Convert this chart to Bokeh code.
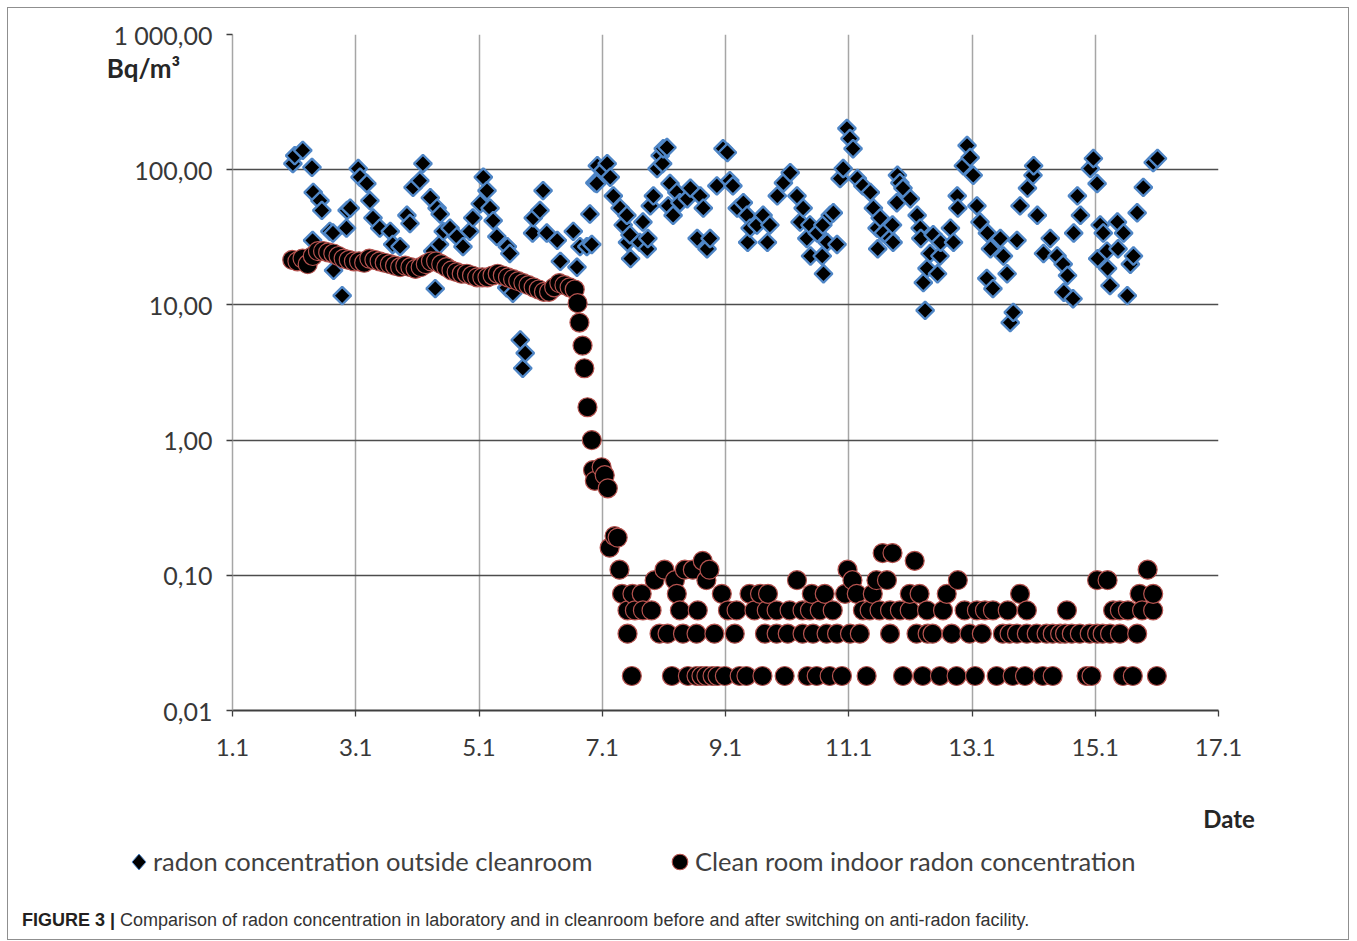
import numpy as np
from bokeh.plotting import figure
from bokeh.layouts import column
from bokeh.models import (ColumnDataSource, Range1d, FixedTicker, Label, Div)
from bokeh.embed import file_html
from bokeh.resources import INLINE

# ---------------- data ----------------
x_tick_days = [1, 3, 5, 7, 9, 11, 13, 15, 17]
x_tick_labels = ["1.1", "3.1", "5.1", "7.1", "9.1", "11.1", "13.1", "15.1", "17.1"]
y_tick_values = [0.01, 0.1, 1, 10, 100, 1000]
y_tick_labels = ["0,01", "0,10", "1,00", "10,00", "100,00", "1 000,00"]
series_names = ["radon concentration outside cleanroom", "Clean room indoor radon concentration"]
caption_bold = "FIGURE 3 |"
caption_text = ("Comparison of radon concentration in laboratory and in cleanroom before and "
                "after switching on anti-radon facility.")

# radon concentration outside cleanroom: day of January, Bq/m3
outside_day = [
    1.98, 2.01, 2.14, 2.29, 2.30, 2.31, 2.42, 2.45, 2.58, 2.63, 2.64, 2.78, 2.85, 2.86, 2.91,
    3.04, 3.07, 3.18, 3.23, 3.28, 3.39, 3.56, 3.60, 3.72, 3.83, 3.88, 3.93,
    4.04, 4.09, 4.21, 4.25, 4.29, 4.32, 4.36, 4.37, 4.42, 4.53, 4.64, 4.74, 4.85, 4.90,
    5.02, 5.07, 5.13, 5.18, 5.23, 5.29, 5.45, 5.46, 5.50, 5.55, 5.67, 5.71, 5.75, 5.87, 5.88, 5.99,
    6.04, 6.10, 6.26, 6.27, 6.32, 6.53, 6.59, 6.64, 6.75, 6.80, 6.83, 6.88, 6.91, 6.92,
    7.01, 7.08, 7.13, 7.18, 7.29, 7.34, 7.40, 7.41, 7.45, 7.46, 7.61, 7.66, 7.73, 7.74, 7.78,
    7.83, 7.89, 7.94, 7.98, 7.99,
    8.05, 8.07, 8.10, 8.15, 8.21, 8.26, 8.38, 8.43, 8.54, 8.59, 8.64, 8.70, 8.75, 8.86, 8.96,
    9.03, 9.07, 9.12, 9.19, 9.29, 9.35, 9.36, 9.40, 9.51, 9.61, 9.68, 9.72, 9.84, 9.94,
    10.05, 10.16, 10.21, 10.26, 10.32, 10.37, 10.38, 10.49, 10.57, 10.58, 10.59, 10.65, 10.70,
    10.75, 10.81, 10.86, 10.91, 10.97,
    11.02, 11.07, 11.14, 11.23, 11.35, 11.40, 11.46, 11.47, 11.51, 11.56, 11.67, 11.71, 11.72,
    11.78, 11.79, 11.83, 11.88,
    12.00, 12.11, 12.16, 12.17, 12.21, 12.24, 12.27, 12.32, 12.37, 12.44, 12.48, 12.49, 12.65,
    12.70, 12.76, 12.77, 12.86, 12.92, 12.97,
    13.02, 13.08, 13.13, 13.24, 13.25, 13.30, 13.34, 13.46, 13.51, 13.57, 13.62, 13.67, 13.73,
    13.78, 13.90, 13.99,
    14.00, 14.06, 14.16, 14.27, 14.38, 14.48, 14.49, 14.55, 14.64, 14.65, 14.71, 14.76, 14.92, 14.97,
    15.03, 15.04, 15.08, 15.13, 15.19, 15.20, 15.24, 15.36, 15.37, 15.46, 15.52, 15.57, 15.62,
    15.68, 15.78, 15.94, 16.01,
]
outside_value = [
    111, 127, 139, 104, 30, 68, 59, 50, 35, 34, 18, 11.7, 37, 50, 52,
    102, 88, 79, 59, 44, 37, 35, 28, 27, 46, 40, 74,
    83, 111, 62, 25, 13.2, 52, 28, 47, 35, 37, 32, 27, 35, 44,
    56, 88, 70, 52, 42, 32, 13.4, 27, 24, 12.2, 5.5, 3.4, 4.4, 34, 44, 50,
    70, 34, 13.4, 30, 21, 35, 19, 27, 27, 47, 28, 80, 79, 107,
    99, 111, 88, 64, 52, 39, 46, 29, 33, 22, 29, 41, 26, 31, 54,
    64, 102, 127, 111, 143,
    146, 54, 79, 46, 68, 57, 61, 73, 31, 64, 52, 26, 31, 76, 143,
    134, 83, 76, 52, 57, 46, 29, 37, 39, 46, 29, 39, 64, 80,
    95, 64, 41, 52, 31, 39, 23, 34, 23, 39, 17, 29, 46,
    48, 28, 86, 102, 202,
    170, 143, 86, 76, 68, 52, 37, 26, 44, 34, 31, 39, 29,
    57, 91, 80, 73,
    61, 46, 37, 31, 14.6, 9.1, 18.6, 24, 33, 17, 23, 29, 37,
    29, 64, 52, 107, 151, 123,
    91, 54, 41, 15.7, 34, 26, 13.2, 31, 23, 17, 7.4, 8.8, 30,
    54, 73, 91,
    107, 46, 24, 31, 23, 20, 12.4, 16.5, 11.1, 34, 64, 46, 102, 121,
    79, 22, 39, 34, 25, 18.6, 13.9, 41, 26, 34, 11.7, 20, 23,
    48, 74, 113, 121,
]

# clean room indoor radon concentration before switching on: one reading every 2 h from day 1.97
indoor_start_day = 1.97
indoor_step_day = 2.0 / 24.0
indoor_before_values = [
    21.5, 21, 22, 20, 23, 25, 25, 24.5, 24, 23, 22, 21.5,
    21, 21, 20.5, 22, 21.5, 21, 20.5, 20, 19.5, 19, 19.5, 19,
    18.5, 19, 20, 21, 21, 20, 19, 18, 17.5, 17, 17, 16.5,
    16, 16, 16, 16.5, 17, 16.5, 16, 15.5, 15, 14.5, 14, 13.5,
    13, 12.5, 12.5, 13.5, 14.5, 14, 13.5, 13,
]
# decay after switching on the anti-radon facility
decay_days = [6.60, 6.63, 6.68, 6.71, 6.76, 6.83, 6.85, 6.88, 6.99, 7.04, 7.09, 7.12, 7.20, 7.25]
decay_values = [10.3, 7.4, 5.0, 3.4, 1.75, 1.0, 0.60, 0.50, 0.63, 0.55, 0.44, 0.16, 0.195, 0.19]

# afterwards the readings sit on discrete levels (Bq/m3): days of the readings on each level
level_0018_days = [7.48, 8.13, 8.39, 8.53, 8.61, 8.69, 8.79, 8.87, 8.99, 9.23, 9.34, 9.60, 9.96,
                   10.33, 10.48, 10.69, 10.89, 11.29, 11.88, 12.20, 12.48, 12.75, 13.05, 13.40,
                   13.66, 13.86, 14.15, 14.31, 14.86, 14.94, 15.45, 15.61, 16.00]
level_0037_days = [7.41, 7.93, 8.06, 8.31, 8.53, 8.82, 9.15, 9.64, 9.83, 10.01, 10.25, 10.42,
                   10.64, 10.81, 11.02, 11.18, 11.67, 12.10, 12.28, 12.36, 12.67, 12.96, 13.16,
                   13.50, 13.61, 13.73, 13.89, 14.05, 14.21, 14.31, 14.43, 14.51, 14.62, 14.75,
                   14.91, 15.03, 15.12, 15.24, 15.40, 15.68]
level_0055_days = [7.41, 7.53, 7.66, 7.80, 8.26, 8.55, 9.04, 9.18, 9.47, 9.67, 9.83, 10.04,
                   10.25, 10.37, 10.53, 10.74, 11.23, 11.34, 11.50, 11.67, 11.83, 11.99, 12.27,
                   12.53, 12.88, 13.08, 13.21, 13.34, 13.58, 13.89, 14.54, 15.29, 15.40, 15.53,
                   15.76, 15.94]
level_0073_days = [7.32, 7.49, 7.64, 8.21, 8.94, 9.39, 9.56, 9.69, 10.40, 10.61, 10.94, 11.13,
                   11.39, 11.99, 12.15, 12.59, 13.78, 15.72, 15.94]
level_0092_days = [7.85, 8.18, 8.69, 10.16, 11.06, 11.45, 11.62, 12.77, 15.03, 15.20]
level_0110_days = [7.28, 8.01, 8.34, 8.47, 8.74, 10.98, 15.85]
level_0128_days = [8.63, 12.07]
level_0146_days = [11.55, 11.71]
level_values = [0.018, 0.037, 0.055, 0.073, 0.092, 0.110, 0.128, 0.146]
level_days = [level_0018_days, level_0037_days, level_0055_days, level_0073_days,
              level_0092_days, level_0110_days, level_0128_days, level_0146_days]

# ---------------- assemble ----------------
indoor_day = [indoor_start_day + i * indoor_step_day for i in range(len(indoor_before_values))]
indoor_val = list(indoor_before_values)
indoor_day += decay_days
indoor_val += decay_values
low_pts = []
for v, days in zip(level_values, level_days):
    for d in days:
        low_pts.append((d, v))
low_pts.sort()
indoor_day += [d for d, _ in low_pts]
indoor_val += [v for _, v in low_pts]

src_out = ColumnDataSource(dict(day=outside_day, val=outside_value))
src_in = ColumnDataSource(dict(day=indoor_day, val=indoor_val))

# ---------------- main chart ----------------
W = 1340
H_MAIN = 772
p = figure(width=W, height=H_MAIN, x_range=Range1d(1, 17), y_range=Range1d(0.01, 1000),
           y_axis_type="log", output_backend="svg", toolbar_location=None,
           min_border_left=224, min_border_right=130, min_border_top=26, min_border_bottom=70)
p.title.visible = False
p.outline_line_color = None
p.background_fill_color = "white"
p.border_fill_color = "white"

xt = FixedTicker(ticks=x_tick_days)
yt = FixedTicker(ticks=y_tick_values)
p.xaxis.ticker = xt
p.yaxis.ticker = yt
p.xgrid.ticker = xt
p.ygrid.ticker = yt
p.xaxis.major_label_overrides = {d: s for d, s in zip(x_tick_days, x_tick_labels)}
p.yaxis.major_label_overrides = {v: s for v, s in zip(y_tick_values, y_tick_labels)}

for ax in (p.xaxis, p.yaxis):
    ax.major_label_text_font = "Lato"
    ax.major_label_text_color = "#383838"
    ax.minor_tick_line_color = None
    ax.major_tick_in = 0
    ax.major_tick_out = 6
    ax.major_tick_line_width = 1.3
p.xaxis.major_label_text_font_size = "24px"
p.yaxis.major_label_text_font_size = "25px"
p.xaxis.axis_line_color = "#3f3f3f"
p.xaxis.axis_line_width = 2
p.xaxis.major_tick_line_color = "#3f3f3f"
p.xaxis.major_label_standoff = 22
p.yaxis.axis_line_color = "#a6a6a6"
p.yaxis.axis_line_width = 1.5
p.yaxis.major_tick_line_color = "#3f3f3f"
p.yaxis.major_label_standoff = 14

p.xgrid.grid_line_color = "#a6a6a6"
p.xgrid.grid_line_width = 1.5
p.ygrid.grid_line_color = "#4d4d4d"
p.ygrid.grid_line_width = 1.5

p.scatter("day", "val", source=src_out, marker="square", angle=np.pi / 4, size=12.5,
          fill_color="black", line_color="#4f86c6", line_width=2.4)
p.scatter("day", "val", source=src_in, marker="circle", size=19,
          fill_color="black", line_color="#b5524e", line_width=1.2)

# unit label in the left panel (not clipped by the plot area)
p.add_layout(Label(x=-1.04, y=561, text="Bq/m³", text_font="Lato", text_font_style="bold",
                   text_font_size="26px", text_color="#262626", text_baseline="middle"), "left")

# ---------------- lower strip: axis title, legend, caption ----------------
H_LOW = 159
diamond_svg = ('<svg width="16" height="18" style="position:absolute;left:123px;top:73px">'
               '<polygon points="8,1 15,9 8,17 1,9" fill="#000" stroke="#4f86c6" '
               'stroke-width="1"/></svg>')
circle_svg = ('<svg width="18" height="18" style="position:absolute;left:663px;top:73px">'
              '<circle cx="9" cy="9" r="7.8" fill="#000" stroke="#b5524e" '
              'stroke-width="1.1"/></svg>')
mid = "position:absolute;white-space:nowrap;line-height:1;transform:translateY(-50%);"
html = (
    f'<div style="position:relative;width:{W}px;height:{H_LOW}px;overflow:visible">'
    f'<div style="{mid}left:1221px;top:39px;transform:translate(-50%,-50%);'
    f'font-family:Lato;font-weight:bold;font-size:24px;color:#262626">Date</div>'
    f'{diamond_svg}'
    f'<div style="{mid}left:145px;top:82px;font-family:Lato;font-size:25.5px;color:#404040">'
    f'{series_names[0]}</div>'
    f'{circle_svg}'
    f'<div style="{mid}left:687px;top:82px;font-family:Lato;font-size:25.5px;color:#404040">'
    f'{series_names[1]}</div>'
    f'<div style="{mid}left:14px;top:140px;font-family:\'Liberation Sans\';font-size:18px;'
    f'color:#333333"><b style="color:#231f20">{caption_bold}</b>&nbsp;{caption_text}</div>'
    f'</div>'
)
strip = Div(text=html, width=W, height=H_LOW, margin=(0, 0, 0, 0))

layout = column(p, strip, spacing=0,
                styles={"margin-left": "7px", "margin-top": "7px", "border": "1px solid #8f8f8f"})

open("out.html", "w").write(file_html(layout, INLINE))
